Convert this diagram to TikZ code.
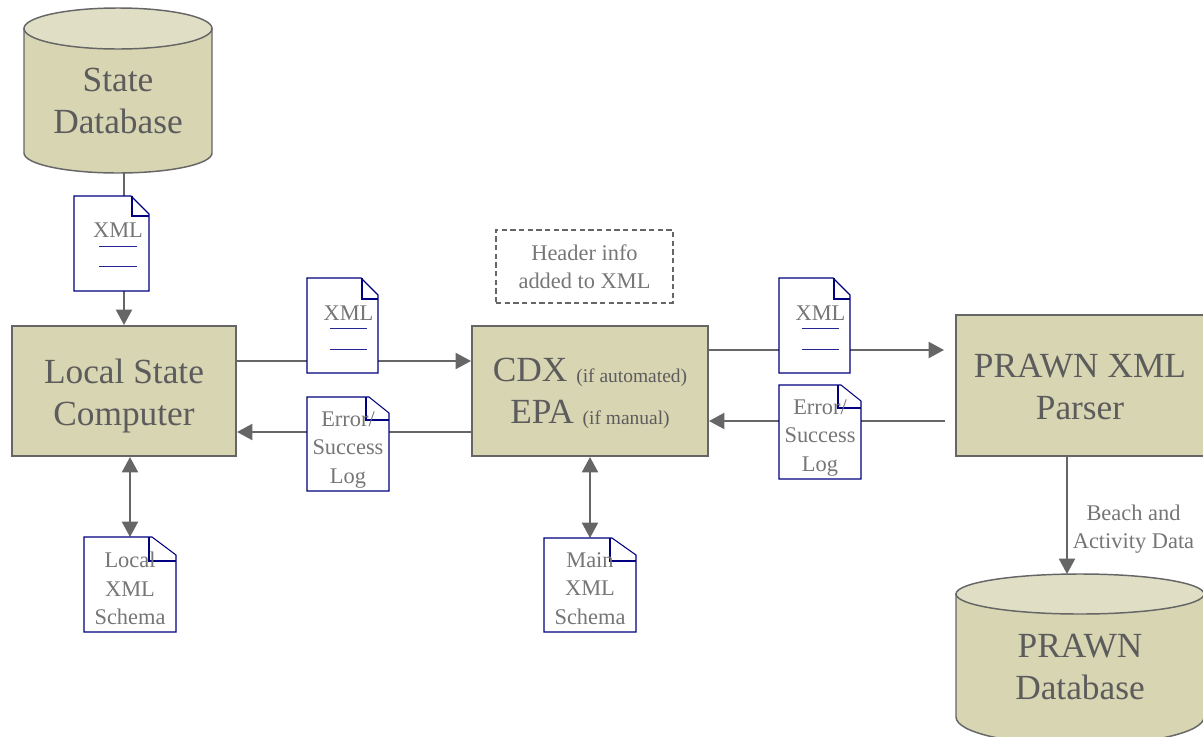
\documentclass[tikz,border=0pt]{standalone}
\usepackage{fontspec}
\setmainfont{Liberation Serif}
\usetikzlibrary{arrows.meta,calc}
\definecolor{boxfill}{HTML}{D8D5B3}
\definecolor{topfill}{HTML}{E0DFC6}
\definecolor{linegray}{HTML}{666666}
\definecolor{textgray}{HTML}{5C5C5C}
\definecolor{smallgray}{HTML}{767676}
\definecolor{docnavy}{HTML}{000080}
\def\pxu{0.75pt}
\tikzset{
  x=0.75pt,y=-0.75pt,
  bigtext/.style={text=textgray,align=center,inner sep=0pt,font=\fontsize{26.5}{31.5}\selectfont},
  smalltext/.style={text=smallgray,align=center,inner sep=0pt,font=\fontsize{16.8}{21.2}\selectfont},
  labeltext/.style={text=textgray!85,align=center,inner sep=0pt,font=\fontsize{16.8}{21.2}\selectfont},
  procbox/.style={draw=linegray,line width=1.5pt,fill=boxfill,inner sep=0pt},
  conn/.style={draw=linegray,line width=1.5pt},
  headtip/.style={-{Triangle[length=11.5pt,width=12pt]}},
  bothtip/.style={{Triangle[length=11.5pt,width=12pt]}-{Triangle[length=11.5pt,width=12pt]}},
  anchorbox/.style={inner sep=0pt,outer sep=0pt},
  docline/.style={draw=docnavy,line width=0.8pt},
  ruleline/.style={draw=docnavy!85,line width=0.7pt},
  notebox/.style={draw=linegray,line width=1.1pt,dash pattern=on 4pt off 2.5pt,text=smallgray,align=center,inner sep=0pt,font=\fontsize{16.8}{21.2}\selectfont}
}
% name, left, top, right, bottom, diagonal start x, diagonal end y, inner fold x, inner fold y
\newcommand{\docpage}[9]{%
  \node[anchorbox,minimum width={(#4-#2)*\pxu},minimum height={(#5-#3)*\pxu}] (#1) at ({(#2+#4)/2},{(#3+#5)/2}) {};
  \path[docline,fill=white] (#2,#3) -- (#6,#3) -- (#4,#7) -- (#4,#5) -- (#2,#5) -- cycle;
  \path[docline] (#8,#3) -- (#8,#9) -- (#4,#9);
}
\newcommand{\subnote}[1]{\raisebox{-0.75pt}{\fontsize{14.6}{17}\selectfont #1}}
% left, right, top, ellipse centre y, ellipse bottom, side bottom, bottom
\newcommand{\dbshape}[7]{%
  \path[draw=linegray,line width=1.1pt,fill=boxfill]
    (#1,#4) -- (#1,#6) .. controls (#1,{#6+(#7-#6)*0.55}) and ({#1+(#2-#1)*0.22},#7) .. ({(#1+#2)/2},#7)
    .. controls ({#2-(#2-#1)*0.22},#7) and (#2,{#6+(#7-#6)*0.55}) .. (#2,#6) -- (#2,#4) -- cycle;
  \path[draw=linegray,line width=1.1pt,fill=topfill]
    (#1,#4) .. controls (#1,{#4-(#5-#4)*0.55}) and ({#1+(#2-#1)*0.22},#3) .. ({(#1+#2)/2},#3)
    .. controls ({#2-(#2-#1)*0.22},#3) and (#2,{#4-(#5-#4)*0.55}) .. (#2,#4)
    .. controls (#2,{#4+(#5-#4)*0.55}) and ({#2-(#2-#1)*0.22},#5) .. ({(#1+#2)/2},#5)
    .. controls ({#1+(#2-#1)*0.22},#5) and (#1,{#4+(#5-#4)*0.55}) .. (#1,#4) -- cycle;
}
\begin{document}
\begin{tikzpicture}
\useasboundingbox (0,0) rectangle (1203,736);
\clip (0,0) rectangle (1203,736);

% helpers fixing connector heights and free ends
\coordinate (ylocalout) at (0,361);
\coordinate (ylocalback) at (0,432);
\coordinate (parserin) at (944,350);
\coordinate (parserback) at (945,421);
\coordinate (xprawn) at (1067,0);

% cylinders
\dbshape{24}{212}{8}{28.5}{49}{153}{173}
\node[anchorbox,minimum width={188*\pxu},minimum height={165*\pxu}] (statedb) at (118,90.5) {};
\node[bigtext] (statedbtext) at (118,101) {State\\Database};
\dbshape{956}{1204}{574}{594}{614}{717}{745}
\node[anchorbox,minimum width={248*\pxu},minimum height={171*\pxu}] (prawndb) at (1080,659.5) {};
\node[bigtext] (prawndbtext) at (1080,667) {PRAWN\\Database};

% process boxes
\node[procbox,minimum width={224*\pxu},minimum height={130*\pxu}] (local) at (124,391) {};
\node[bigtext] (localtext) at (124,396) {Local State\\Computer};
\node[procbox,minimum width={236*\pxu},minimum height={130*\pxu}] (cdx) at (590,391) {};
\node[bigtext] (cdxtext) at (590,393) {CDX \subnote{(if automated)}\\EPA \subnote{(if manual)}};
\node[procbox,minimum width={248*\pxu},minimum height={141*\pxu}] (parser) at (1080,385.5) {};
\node[bigtext] (parsertext) at (1080,387) {PRAWN XML\\Parser};

% connector targets (documents are drawn over the connectors)
\node[anchorbox,minimum width={92*\pxu},minimum height={95*\pxu}] (schemaA) at (130,584.5) {};
\node[anchorbox,minimum width={92*\pxu},minimum height={94*\pxu}] (schemaB) at (590,585) {};

% connectors
\draw[conn,headtip] (local.north |- statedb.south) -- (local.north);
\draw[conn,headtip] (local.east |- ylocalout) -- (cdx.west |- ylocalout);
\draw[conn,headtip] (cdx.west |- ylocalback) -- (local.east |- ylocalback);
\draw[conn,headtip] (cdx.east |- parserin) -- (parserin);
\draw[conn,headtip] (parserback) -- (cdx.east |- parserback);
\draw[conn,bothtip] (schemaA.north |- local.south) -- (schemaA.north);
\draw[conn,bothtip] (schemaB.north |- cdx.south) -- (schemaB.north);
\draw[conn,headtip] (xprawn |- parser.south) -- (xprawn |- prawndb.north);

% documents
\docpage{xmlA}{74}{196}{149}{291}{131}{214}{132}{216}
\path[ruleline] (99,246) -- (137,246) (99,266) -- (137,266);
\node[smalltext] (xmlAtext) at (118,230.5) {XML};

\docpage{xmlB}{307}{278}{378}{373}{361}{295}{362}{299}
\path[ruleline] (330,328) -- (367,328) (330,349) -- (367,349);
\node[smalltext] (xmlBtext) at (348.5,313.5) {XML};

\docpage{xmlC}{779}{278}{850}{373}{833}{295}{834}{299}
\path[ruleline] (802,328) -- (839,328) (802,349) -- (839,349);
\node[smalltext] (xmlCtext) at (820.5,313.5) {XML};

\docpage{logA}{307}{397}{389}{491}{369}{413}{366}{420}
\node[smalltext] (logAtext) at (348,450) {Error/\\Success\\Log};

\docpage{logB}{779}{385}{861}{479}{841}{401}{838}{408}
\node[smalltext] (logBtext) at (820,438) {Error/\\Success\\Log};

\docpage{schemaApage}{84}{537}{176}{632}{152}{555}{149}{561}
\node[smalltext] (schemaAtext) at (130,588.5) {Local\\XML\\Schema};

\docpage{schemaBpage}{544}{538}{636}{632}{612}{555}{610}{561}
\node[smalltext] (schemaBtext) at (590,588.5) {Main\\XML\\Schema};

% note and edge label
\node[notebox,minimum width={177*\pxu},minimum height={73*\pxu}] (note) at (584.5,266.5) {Header info\\added to XML};
\node[labeltext] (edgelabel) at (1133.5,529) {Beach and\\Activity Data};
\end{tikzpicture}
\end{document}
